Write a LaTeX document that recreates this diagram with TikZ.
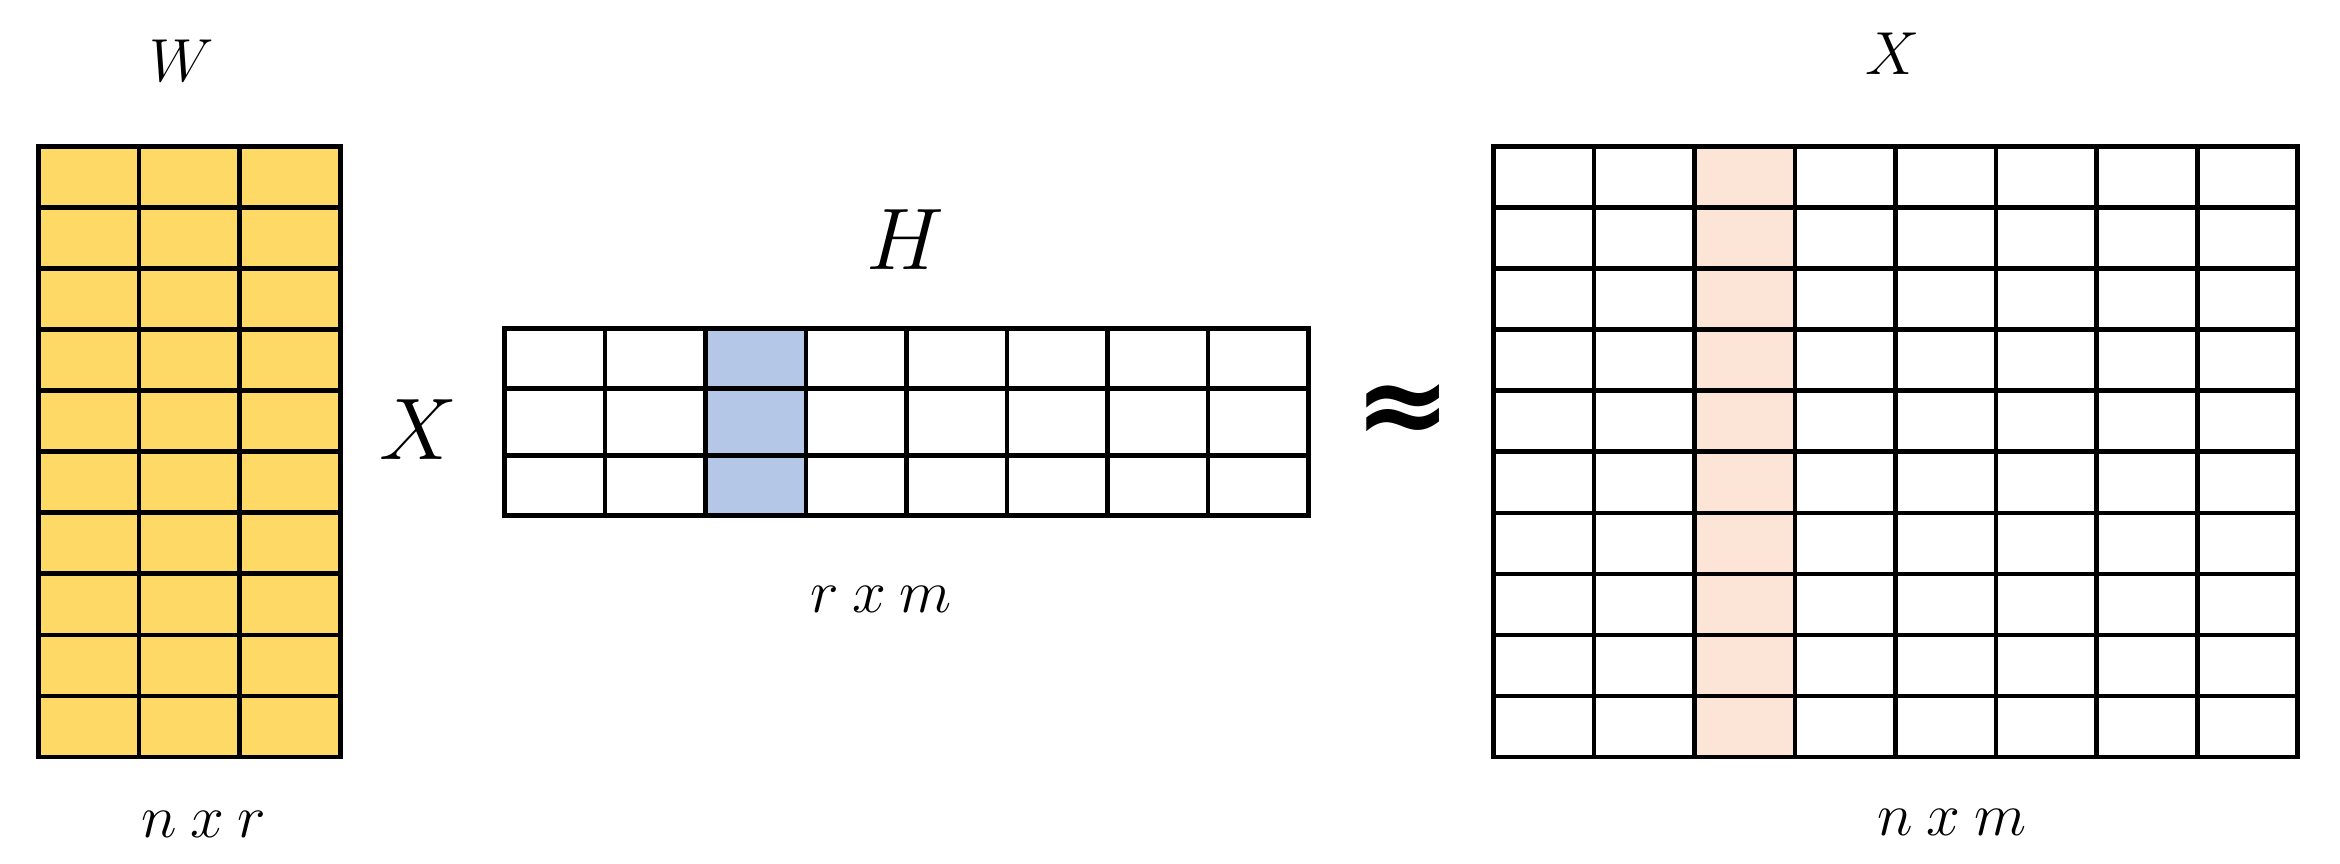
\documentclass[tikz,border=0pt]{standalone}
\usepackage{fontspec}
\newfontfamily\apxfont{DejaVu Sans}
\definecolor{wfill}{HTML}{FED966}
\definecolor{hfill}{HTML}{B4C7E7}
\definecolor{xfill}{HTML}{FCE4D6}
\newcommand{\bigapprox}{{\fontsize{33}{38}\apxfont\bfseries ≈}}
\tikzset{
  gridline/.style={line width=1.35pt, black},
  smalllab/.style={anchor=base, inner sep=0pt, font=\fontsize{18.8}{22}\selectfont},
  biglab/.style={anchor=base, inner sep=0pt, font=\fontsize{23.3}{27}\selectfont},
  approxlab/.style={anchor=center, inner sep=0pt},
}
\begin{document}
\begin{tikzpicture}[x=0.01cm,y=-0.01cm]
\useasboundingbox (0,0) rectangle (2340,864);
% ---------- W : n x r ----------
\fill[wfill] (38.3,146.5) rectangle (340.5,757);
\foreach \i in {1,2} \draw[gridline] ({38.3+\i*100.73},146.5) -- ({38.3+\i*100.73},757);
\foreach \j in {1,...,9} \draw[gridline] (38.3,{146.5+\j*61.05}) -- (340.5,{146.5+\j*61.05});
\draw[gridline] (38.3,146.5) rectangle (340.5,757);
\node[smalllab] (wlab) at (182,82) {$W$};
\node[smalllab] (wdim) at (204,837) {$n\:x\:r$};
% ---------- X (times) ----------
\node[biglab] (times) at (418,459) {$X$};
% ---------- H : r x m ----------
\fill[hfill] ({504.5+2*100.5},328.5) rectangle ({504.5+3*100.5},515.5);
\foreach \i in {1,...,7} \draw[gridline] ({504.5+\i*100.5},328.5) -- ({504.5+\i*100.5},515.5);
\foreach \y in {388.8,455.5} \draw[gridline] (504.5,\y) -- (1308.5,\y);
\draw[gridline] (504.5,328.5) rectangle (1308.5,515.5);
\node[biglab] (hlab) at (905,270) {$H$};
\node[smalllab] (hdim) at (881,612) {$r\:x\:m$};
% ---------- approx ----------
\node[approxlab] (apx) at (1403,414) {\bigapprox};
% ---------- X : n x m ----------
\fill[xfill] ({1493.3+2*100.55},146.7) rectangle ({1493.3+3*100.55},757);
\foreach \i in {1,...,7} \draw[gridline] ({1493.3+\i*100.55},146.7) -- ({1493.3+\i*100.55},757);
\foreach \j in {1,...,9} \draw[gridline] (1493.3,{146.7+\j*61.03}) -- (2297.7,{146.7+\j*61.03});
\draw[gridline] (1493.3,146.7) rectangle (2297.7,757);
\node[smalllab] (xlab) at (1893,75) {$X$};
\node[smalllab] (xdim) at (1952,835) {$n\:x\:m$};
\end{tikzpicture}
\end{document}
